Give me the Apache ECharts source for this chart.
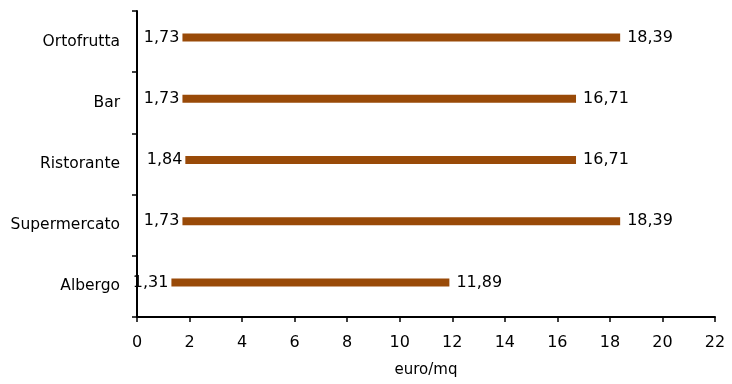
<!DOCTYPE html>
<html>
<head>
<meta charset="utf-8">
<style>
  html, body { margin: 0; padding: 0; background: #fff; }
  #chart { width: 732px; height: 384px; }
</style>
<script src="https://cdn.jsdelivr.net/npm/echarts@6/dist/echarts.min.js"></script>
</head>
<body>
<div id="chart"></div>
<script>
// Canone di locazione per tipologia di attività (euro/mq): minimo e massimo
const categories = ['Albergo', 'Supermercato', 'Ristorante', 'Bar', 'Ortofrutta'];
const minValues = [1.31, 1.73, 1.84, 1.73, 1.73];
const maxValues = [11.89, 18.39, 16.71, 16.71, 18.39];
const xTicks = [0, 2, 4, 6, 8, 10, 12, 14, 16, 18, 20, 22];

const fmt = v => v.toFixed(2).replace('.', ',');
const FONT = 'DejaVu Sans';
const FONT_SIZE = 16;
const BROWN = '#994a08';
const BAR_H = 8;      // bar thickness in px
const BAR_SHIFT = -4; // bars sit slightly above the category centre

// one range bar per category, from the minimum to the maximum value
function renderRange(params, api) {
  const cat = api.value(0);
  const lo = api.value(1);
  const hi = api.value(2);
  const p0 = api.coord([lo, cat]);
  const p1 = api.coord([hi, cat]);
  const cy = p0[1] + BAR_SHIFT;
  const textStyle = { fontFamily: FONT, fontSize: FONT_SIZE, fill: '#000', verticalAlign: 'middle' };
  return {
    type: 'group',
    children: [
      {
        type: 'rect',
        shape: { x: p0[0], y: cy - BAR_H / 2, width: p1[0] - p0[0], height: BAR_H },
        style: { fill: BROWN }
      },
      {
        type: 'text',
        x: p0[0] - 3, y: cy,
        style: Object.assign({ text: fmt(lo), align: 'right' }, textStyle)
      },
      {
        type: 'text',
        x: p1[0] + 7, y: cy,
        style: Object.assign({ text: fmt(hi), align: 'left' }, textStyle)
      }
    ]
  };
}

const chart = echarts.init(document.getElementById('chart'));
chart.setOption({
  animation: false,
  textStyle: { fontFamily: FONT },
  grid: { left: 137, right: 17, top: 11, bottom: 67, containLabel: false },
  xAxis: {
    type: 'value',
    min: xTicks[0],
    max: xTicks[xTicks.length - 1],
    interval: 2,
    name: 'euro/mq',
    nameLocation: 'middle',
    nameGap: 46,
    nameTextStyle: { fontFamily: FONT, fontSize: 15, color: '#000' },
    axisLine: { show: true, lineStyle: { color: '#000', width: 2 } },
    axisTick: { show: true, length: 5, lineStyle: { color: '#000', width: 1.5 } },
    axisLabel: { fontFamily: FONT, fontSize: FONT_SIZE, color: '#000', margin: 18 },
    splitLine: { show: false }
  },
  yAxis: {
    type: 'category',
    data: categories,
    axisLine: { show: true, lineStyle: { color: '#000', width: 2 } },
    axisTick: { show: true, length: 5, lineStyle: { color: '#000', width: 1.5 } },
    axisLabel: { fontFamily: FONT, fontSize: 15.5, color: '#000', margin: 17 }
  },
  series: [
    {
      type: 'custom',
      renderItem: renderRange,
      encode: { x: [1, 2], y: 0 },
      data: categories.map((c, i) => [i, minValues[i], maxValues[i]])
    }
  ]
});
</script>
</body>
</html>
